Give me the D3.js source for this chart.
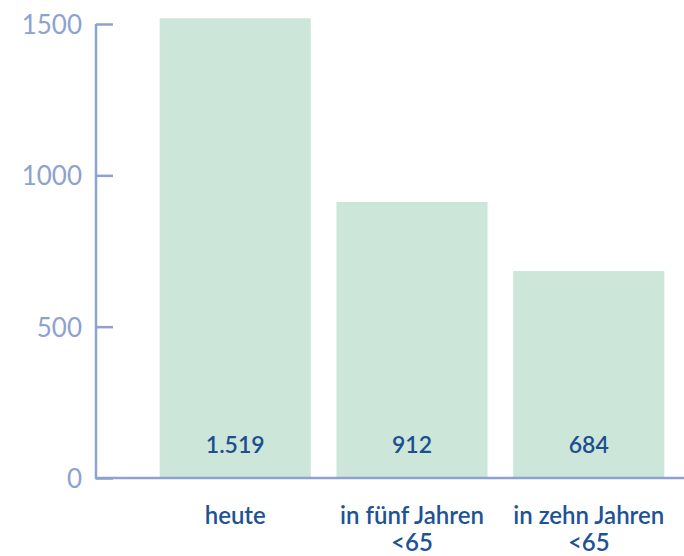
<!DOCTYPE html>
<html>
<head>
<meta charset="utf-8">
<script src="https://cdn.jsdelivr.net/npm/d3@7"></script>
<style>
  html, body { margin: 0; padding: 0; background: #fff; }
  svg { display: block; font-family: Lato, "Open Sans", sans-serif; }
</style>
</head>
<body>
<svg id="chart" width="684" height="556"></svg>
<script>
// Kategorien (mehrzeilig) und Werte
const categories = ["heute", "in fünf Jahren\n<65", "in zehn Jahren\n<65"];
const values = [1519, 912, 684];
const valueLabels = ["1.519", "912", "684"];
const yTicks = [0, 500, 1000, 1500];

const svg = d3.select("#chart");
const margin = { left: 96, top: 24, right: 0, bottom: 78 };
const W = 684, H = 556;

const x = d3.scaleBand()
  .domain(categories)
  .range([142, 682])
  .paddingInner(0.145)
  .paddingOuter(0.1);

const y = d3.scaleLinear()
  .domain([0, 1500])
  .range([H - margin.bottom, margin.top]);

const axisColor = "#8da2d1";

// Balken
svg.append("g").selectAll("rect")
  .data(values)
  .join("rect")
  .attr("x", (d, i) => x(categories[i]))
  .attr("y", d => y(d))
  .attr("width", x.bandwidth())
  .attr("height", d => y(0) - y(d))
  .attr("fill", "#cde6da");

// Wertbeschriftungen im Balkenfuß
svg.append("g").selectAll("text")
  .data(values)
  .join("text")
  .attr("x", (d, i) => x(categories[i]) + x.bandwidth() / 2)
  .attr("y", y(0) - 25)
  .attr("text-anchor", "middle")
  .attr("font-size", 23)
  .attr("font-weight", 600)
  .attr("fill", "#1b4f8f")
  .text((d, i) => valueLabels[i]);

// y-Achse
const yAxis = d3.axisRight(y)
  .tickValues(yTicks)
  .tickSize(17)
  .tickFormat(d3.format("d"));
const gy = svg.append("g")
  .attr("transform", `translate(${margin.left},0)`)
  .call(yAxis);
gy.select(".domain").attr("stroke", axisColor).attr("stroke-width", 2.5)
  .attr("d", `M0,${y(1500)}V${y(0)}`);
gy.selectAll(".tick line").attr("stroke", axisColor).attr("stroke-width", 2.5);
gy.selectAll(".tick text")
  .attr("x", -14)
  .attr("dy", "0.36em")
  .attr("text-anchor", "end")
  .attr("font-size", 26)
  .attr("fill", "#8ea2d0")
  .attr("font-family", "Lato, sans-serif");

// x-Achse
const xAxis = d3.axisBottom(x).tickSize(0).tickFormat("");
const gx = svg.append("g")
  .attr("transform", `translate(0,${y(0)})`)
  .call(xAxis);
gx.select(".domain").attr("stroke", axisColor).attr("stroke-width", 2.5)
  .attr("d", `M${margin.left - 1},0H${W}`);

// Kategoriebeschriftungen
const labels = svg.append("g").selectAll("text")
  .data(categories)
  .join("text")
  .attr("x", d => x(d) + x.bandwidth() / 2)
  .attr("y", 524)
  .attr("text-anchor", "middle")
  .attr("font-size", 24)
  .attr("font-weight", 600)
  .attr("fill", "#1d5297");
labels.each(function(d) {
  const t = d3.select(this);
  d.split("\n").forEach((line, i) => {
    t.append("tspan")
      .attr("x", x(d) + x.bandwidth() / 2)
      .attr("dy", i === 0 ? 0 : 27)
      .text(line);
  });
});
</script>
</body>
</html>
